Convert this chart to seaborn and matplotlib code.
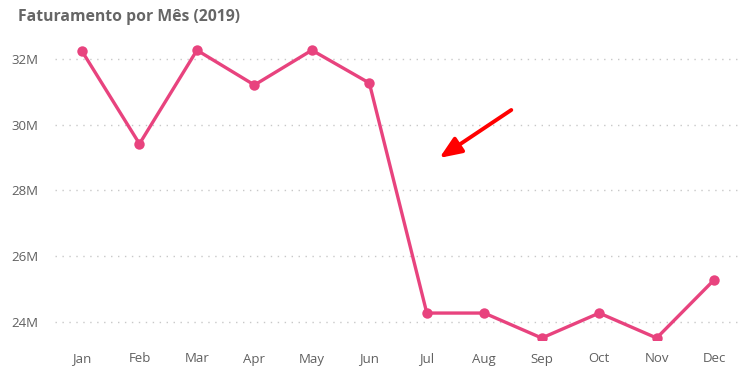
import matplotlib
matplotlib.use("Agg")
import matplotlib.pyplot as plt
import seaborn as sns
import pandas as pd

months = ["Jan", "Feb", "Mar", "Apr", "May", "Jun", "Jul", "Aug", "Sep", "Oct", "Nov", "Dec"]
revenue_m = [32.24, 29.42, 32.27, 31.21, 32.27, 31.27, 24.27, 24.27, 23.51, 24.27, 23.51, 25.28]
yticks = [24, 26, 28, 30, 32]
ytick_labels = ["24M", "26M", "28M", "30M", "32M"]
title = "Faturamento por Mês (2019)"

sns.set_theme(style="white")
plt.rcParams['font.family'] = ['Open Sans', 'DejaVu Sans']

df = pd.DataFrame({"month": months, "revenue": revenue_m, "idx": range(len(months))})

W, H = 740, 372
fig = plt.figure(figsize=(W / 100, H / 100), dpi=100)
ax = fig.add_axes([55 / W, (H - 340) / H, (W - 55) / W, (340 - 40) / H])

line_color = "#E8437E"
sns.lineplot(data=df, x="idx", y="revenue", ax=ax, color=line_color, linewidth=2.4,
             marker="o", markersize=7.5, markeredgewidth=0, zorder=3)

ax.set_xlim(-0.47, 11.45)
ax.set_ylim(23.45, 32.58)
ax.set_xticks(range(len(months)))
ax.set_xticklabels(months)
ax.set_yticks(yticks)
ax.set_yticklabels(ytick_labels)
ax.set_xlabel("")
ax.set_ylabel("")
for s in ax.spines.values():
    s.set_visible(False)
ax.grid(axis="y", color="#c8c8c8", linestyle=(0, (1, 4)), linewidth=1)
ax.tick_params(axis="both", length=0, labelsize=9.5, labelcolor="#606060")
ax.tick_params(axis="x", pad=9)
ax.tick_params(axis="y", pad=12)

ax.annotate("", xy=(6.22, 28.99), xytext=(7.47, 30.45),
            arrowprops=dict(arrowstyle="-|>,head_length=1.1,head_width=0.45",
                            color="#FF0000", lw=2.8, shrinkA=0, shrinkB=0,
                            capstyle="round"))

fig.text(18 / W, 1 - 17 / H, title, fontsize=11.3, fontweight="bold", color="#666666",
         va="center", ha="left")

fig.savefig("out.png", dpi=100)
